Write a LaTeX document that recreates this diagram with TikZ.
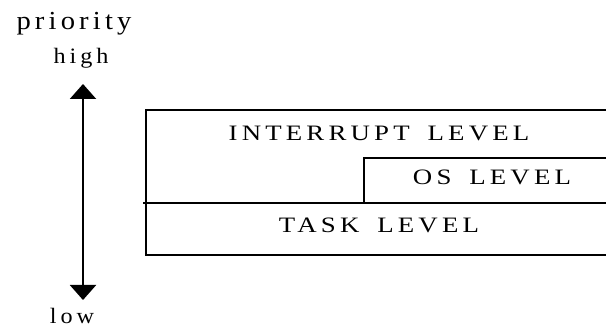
\documentclass[tikz,border=0pt]{standalone}
\usepackage{fontspec}
\setmainfont{Liberation Serif}
\newfontfamily\lvlfont[LetterSpace=19, FakeStretch=1.22]{Liberation Serif}
\newfontfamily\prifont[LetterSpace=16, FakeStretch=1.1]{Liberation Serif}
\newfontfamily\endfont[LetterSpace=18, FakeStretch=1.1]{Liberation Serif}
\usetikzlibrary{arrows.meta}
\tikzstyle{border} = [draw, line width=2.4pt]
\tikzstyle{lvltext} = [anchor=base, inner sep=0pt,
  font=\lvlfont\fontsize{22}{26}\selectfont]
\tikzstyle{pritext} = [anchor=base, inner sep=0pt,
  font=\prifont\fontsize{26}{30}\selectfont]
\tikzstyle{endtext} = [anchor=base, inner sep=0pt,
  font=\endfont\fontsize{22}{26}\selectfont]
\tikzstyle{line} = [draw, {Triangle[length=15pt,width=26pt]}-{Triangle[length=15pt,width=26pt]}, line width=2.2pt]

\begin{document}
\begin{tikzpicture}[x=1pt, y=-1pt]
  \useasboundingbox (0,0) rectangle (606,331);

  % corners of the level chart (open to the right)
  \coordinate (tr) at (612,110);
  \coordinate (tl) at (146,110);
  \coordinate (bl) at (146,255);
  \coordinate (br) at (612,255);
  \coordinate (ml) at (143,203);
  \coordinate (mr) at (612,203);
  \coordinate (osb) at (364,203);
  \coordinate (ost) at (364,158);
  \coordinate (osr) at (612,158);

  \path [border] (tr) -- (tl) -- (bl) -- (br);
  \path [border] (ml) -- (mr);
  \path [border] (osb) -- (ost) -- (osr);

  \node [lvltext] (irq) at (379,141) {INTERRUPT\hspace{7pt} LEVEL};
  \node [lvltext] (os) at (492,185) {OS\hspace{7pt} LEVEL};
  \node [lvltext] (task) at (379,233) {TASK\hspace{7pt} LEVEL};

  % priority axis
  \node [pritext] (prio) at (74,30) {priority};
  \node [endtext] (high) at (81,64) {high};
  \node [endtext] (low) at (72,324) {low};
  \coordinate (up) at (83,84);
  \coordinate (down) at (83,300);
  \path [line] (up) -- (down);
\end{tikzpicture}
\end{document}
